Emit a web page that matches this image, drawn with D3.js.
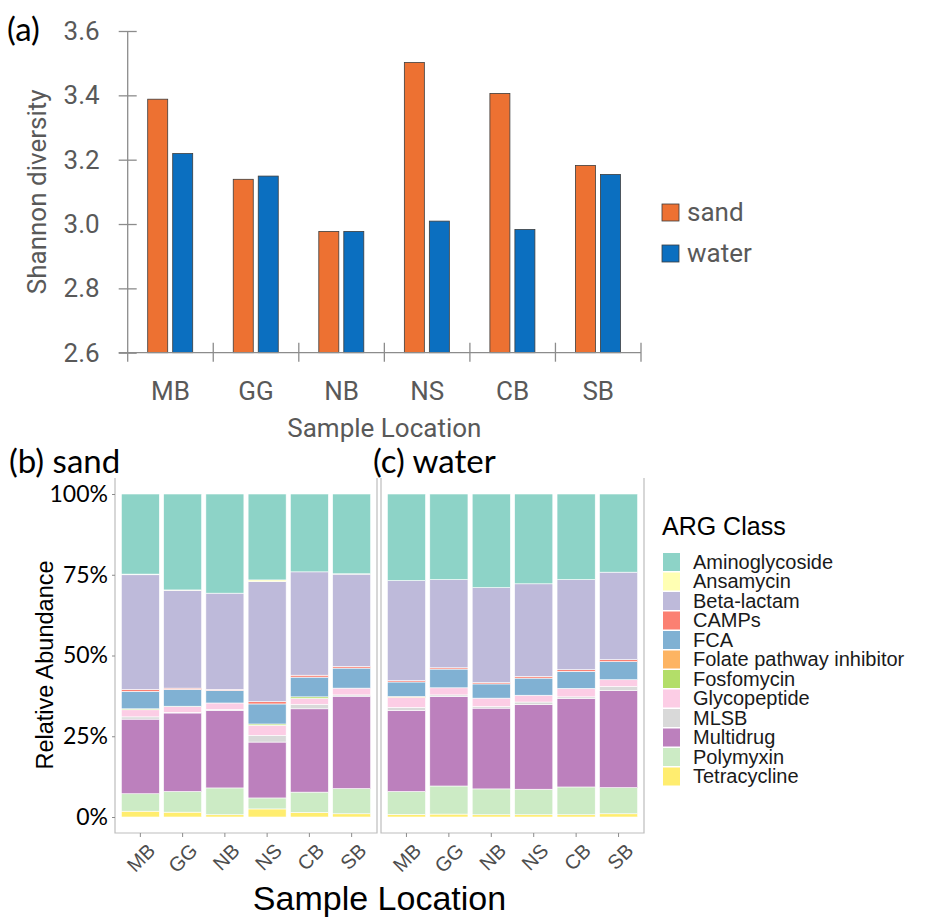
<!DOCTYPE html>
<html>
<head>
<meta charset="utf-8">
<script src="https://cdn.jsdelivr.net/npm/d3@7"></script>
<style>
  body { margin: 0; background: white; }
</style>
</head>
<body>
<script>
var locations = ["MB", "GG", "NB", "NS", "CB", "SB"];
var shannonSand = [3.388, 3.139, 2.977, 3.502, 3.406, 3.182];
var shannonWater = [3.219, 3.149, 2.977, 3.009, 2.983, 3.154];
var shannonTicks = [2.6, 2.8, 3.0, 3.2, 3.4, 3.6];

var argClasses = ["Aminoglycoside", "Ansamycin", "Beta-lactam", "CAMPs", "FCA",
    "Folate pathway inhibitor", "Fosfomycin", "Glycopeptide", "MLSB",
    "Multidrug", "Polymyxin", "Tetracycline"];

// % per class, same order as argClasses, one row per location
var sandShares = [
    [24.8, 0.2, 35.5, 0.6, 5.4, 0.0, 0.3, 2.2, 0.7, 23.1, 5.4, 1.8],  // MB
    [29.7, 0.1, 30.3, 0.4, 5.2, 0.0, 0.1, 1.8, 0.2, 24.3, 6.4, 1.5],  // GG
    [30.7, 0.0, 29.8, 0.3, 3.9, 0.0, 0.0, 2.0, 0.3, 24.0, 8.3, 0.7],  // NB
    [26.6, 0.5, 37.2, 0.7, 6.2, 0.0, 0.4, 3.1, 2.1, 17.3, 3.4, 2.5],  // NS
    [24.1, 0.0, 32.0, 0.6, 6.1, 0.0, 0.5, 1.8, 1.4, 25.8, 6.3, 1.4],  // CB
    [24.7, 0.1, 28.6, 0.5, 6.2, 0.0, 0.0, 2.1, 0.4, 28.6, 7.8, 1.0]   // SB
];
var waterShares = [
    [26.8, 0.0, 31.0, 0.4, 4.5, 0.3, 0.0, 3.1, 0.9, 25.1, 7.1, 0.8],  // MB
    [26.5, 0.0, 27.3, 0.4, 5.8, 0.0, 0.0, 2.2, 0.5, 27.7, 8.7, 0.9],  // GG
    [29.0, 0.0, 29.4, 0.4, 4.4, 0.0, 0.0, 2.6, 0.5, 25.0, 8.0, 0.7],  // NB
    [27.8, 0.0, 28.7, 0.5, 5.3, 0.0, 0.0, 2.1, 0.8, 26.2, 7.9, 0.7],  // NS
    [26.5, 0.0, 27.9, 0.5, 5.3, 0.0, 0.0, 2.6, 0.5, 27.4, 8.6, 0.7],  // CB
    [24.2, 0.0, 27.1, 0.6, 5.6, 0.0, 0.0, 2.1, 1.3, 30.0, 8.1, 1.0]   // SB
];
var pctTicks = [0, 0.25, 0.5, 0.75, 1];

var mediumColors = {sand: "#ed7132", water: "#0b6fc0"};
var argColors = d3.scaleOrdinal().domain(argClasses).range(d3.schemeSet3);

var svg = d3.select("body").append("svg")
    .attr("width", 929)
    .attr("height", 924);

// (a) Shannon diversity
var topFont = "Roboto, 'DejaVu Sans', sans-serif";
var grey = "#595959";
var axisGrey = "#8c8c8c";
var a = {left: 127.7, right: 641, top: 31, bottom: 352.7};

var xA = d3.scaleBand().domain(locations).range([a.left, a.right]);
var xMed = d3.scaleBand().domain(["sand", "water"]).range([20, 65]).paddingInner(0.2);
var yA = d3.scaleLinear().domain([2.6, 3.6]).range([a.bottom, a.top]);

var pairs = [];
locations.forEach(function (loc, i) {
    pairs.push({loc: loc, medium: "sand", value: shannonSand[i]});
    pairs.push({loc: loc, medium: "water", value: shannonWater[i]});
});

svg.append("g").selectAll("rect")
    .data(pairs)
    .join("rect")
    .attr("x", function (d) { return xA(d.loc) + xMed(d.medium); })
    .attr("y", function (d) { return yA(d.value); })
    .attr("width", xMed.bandwidth())
    .attr("height", function (d) { return yA(2.6) - yA(d.value); })
    .attr("fill", function (d) { return mediumColors[d.medium]; })
    .attr("stroke", "#3d3d3d")
    .attr("stroke-width", 0.8);

var yAxisA = svg.append("g")
    .attr("transform", "translate(" + a.left + ",0)")
    .call(d3.axisLeft(yA).tickValues(shannonTicks).tickFormat(d3.format(".1f")).tickSize(9).tickPadding(19));
yAxisA.select(".domain").remove();
yAxisA.selectAll(".tick line").attr("x1", 9).attr("stroke", axisGrey).attr("stroke-width", 1.3);
yAxisA.selectAll(".tick text")
    .attr("font-family", topFont).attr("font-size", 26).attr("fill", grey);

var xAxisA = svg.append("g")
    .attr("transform", "translate(0," + a.bottom + ")")
    .call(d3.axisBottom(xA).tickSize(0).tickPadding(29));
xAxisA.select(".domain").remove();
xAxisA.selectAll(".tick text")
    .attr("font-family", topFont).attr("font-size", 26).attr("fill", grey);

// axis lines and boundary ticks
svg.append("line")
    .attr("x1", a.left).attr("x2", a.left)
    .attr("y1", a.top).attr("y2", a.bottom + 9)
    .attr("stroke", axisGrey).attr("stroke-width", 1.3);
svg.append("line")
    .attr("x1", a.left - 9).attr("x2", a.right)
    .attr("y1", a.bottom).attr("y2", a.bottom)
    .attr("stroke", axisGrey).attr("stroke-width", 1.3);
svg.append("g").selectAll("line")
    .data(locations.slice(1).map(function (l) { return xA(l); }).concat([a.right]))
    .join("line")
    .attr("x1", function (d) { return d; }).attr("x2", function (d) { return d; })
    .attr("y1", a.bottom - 10).attr("y2", a.bottom + 9)
    .attr("stroke", axisGrey).attr("stroke-width", 1.3);

svg.append("text")
    .attr("x", (a.left + a.right) / 2).attr("y", 437)
    .attr("text-anchor", "middle")
    .attr("font-family", topFont).attr("font-size", 26).attr("fill", grey)
    .text("Sample Location");
svg.append("text")
    .attr("transform", "translate(46," + (a.top + a.bottom) / 2 + ") rotate(-90)")
    .attr("text-anchor", "middle")
    .attr("font-family", topFont).attr("font-size", 26).attr("fill", grey)
    .text("Shannon diversity");
svg.append("text")
    .attr("x", 7).attr("y", 41)
    .attr("font-family", "Lato, 'Open Sans', sans-serif").attr("font-size", 33)
    .text("(a)");

var legA = svg.append("g").selectAll("g")
    .data(["sand", "water"])
    .join("g")
    .attr("transform", function (d, i) { return "translate(662," + (204 + i * 41) + ")"; });
legA.append("rect")
    .attr("width", 17).attr("height", 17)
    .attr("fill", function (d) { return mediumColors[d]; })
    .attr("stroke", "#3d3d3d").attr("stroke-width", 0.8);
legA.append("text")
    .attr("x", 25).attr("y", 17)
    .attr("font-family", topFont).attr("font-size", 26).attr("fill", grey)
    .text(function (d) { return d; });

// (b) / (c) relative abundance
var lab = "Lato, 'Open Sans', sans-serif";
var arial = "'Liberation Sans', Arial, sans-serif";
var yB = d3.scaleLinear().domain([0, 1]).range([817, 494]);
var panels = [
    {label: "(b) sand", x0: 115, x1: 377, shares: sandShares, labelX: 9},
    {label: "(c) water", x0: 381, x1: 644, shares: waterShares, labelX: 373}
];
var stackKeys = argClasses.slice().reverse();

panels.forEach(function (p, pi) {
    var xB = d3.scaleBand().domain(locations).range([p.x0, p.x1])
        .paddingInner(0.1).paddingOuter(0.15);
    var rows = locations.map(function (loc, i) {
        var total = d3.sum(p.shares[i]);
        var row = {loc: loc};
        argClasses.forEach(function (c, j) { row[c] = p.shares[i][j] / total; });
        return row;
    });
    var series = d3.stack().keys(stackKeys)(rows);

    var g = svg.append("g");
    g.selectAll("g")
        .data(series)
        .join("g")
        .attr("fill", function (s) { return argColors(s.key); })
        .selectAll("rect")
        .data(function (s) { return s; })
        .join("rect")
        .attr("x", function (d) { return xB(d.data.loc); })
        .attr("y", function (d) { return yB(d[1]); })
        .attr("width", xB.bandwidth())
        .attr("height", function (d) { return yB(d[0]) - yB(d[1]); })
        .attr("stroke", "white")
        .attr("stroke-width", 0.6);

    svg.append("path")
        .attr("d", "M" + p.x0 + ",478V833H" + p.x1 + "V478")
        .attr("fill", "none").attr("stroke", "#bdbdbd").attr("stroke-width", 1.2);

    var xAx = svg.append("g")
        .attr("transform", "translate(0,833)")
        .call(d3.axisBottom(xB).tickSize(4));
    xAx.select(".domain").remove();
    xAx.selectAll(".tick line").attr("stroke", "#8c8c8c");
    xAx.selectAll(".tick text")
        .attr("x", 0).attr("y", 0).attr("dy", "0.71em")
        .attr("transform", "translate(6,9) rotate(-45)")
        .attr("text-anchor", "end")
        .attr("font-family", arial).attr("font-size", 20).attr("fill", "#4d4d4d");

    if (pi === 0) {
        var yAx = svg.append("g")
            .attr("transform", "translate(" + p.x0 + ",0)")
            .call(d3.axisLeft(yB).tickValues(pctTicks).tickFormat(d3.format(".0%")).tickSize(3).tickPadding(4));
        yAx.select(".domain").remove();
        yAx.selectAll(".tick line").attr("stroke", "#8c8c8c");
        yAx.selectAll(".tick text")
            .attr("font-family", lab).attr("font-size", 23).attr("fill", "black");
    }

    svg.append("text")
        .attr("x", p.labelX).attr("y", 473)
        .attr("font-family", lab).attr("font-size", 33)
        .text(p.label);
});

svg.append("text")
    .attr("x", 379.5).attr("y", 910)
    .attr("text-anchor", "middle")
    .attr("font-family", arial).attr("font-size", 34)
    .text("Sample Location");
svg.append("text")
    .attr("transform", "translate(53,665) rotate(-90)")
    .attr("text-anchor", "middle")
    .attr("font-family", arial).attr("font-size", 23.5)
    .text("Relative Abundance");

// ARG legend
svg.append("text")
    .attr("x", 662).attr("y", 535)
    .attr("font-family", arial).attr("font-size", 25)
    .text("ARG Class");
var legB = svg.append("g").selectAll("g")
    .data(argClasses)
    .join("g")
    .attr("transform", function (d, i) { return "translate(663," + (553 + i * 19.5) + ")"; });
legB.append("rect")
    .attr("width", 17).attr("height", 18)
    .attr("fill", function (d) { return argColors(d); });
legB.append("text")
    .attr("x", 30).attr("y", 15.5)
    .attr("font-family", arial).attr("font-size", 20).attr("fill", "#1a1a1a")
    .text(function (d) { return d; });
</script>
</body>
</html>
